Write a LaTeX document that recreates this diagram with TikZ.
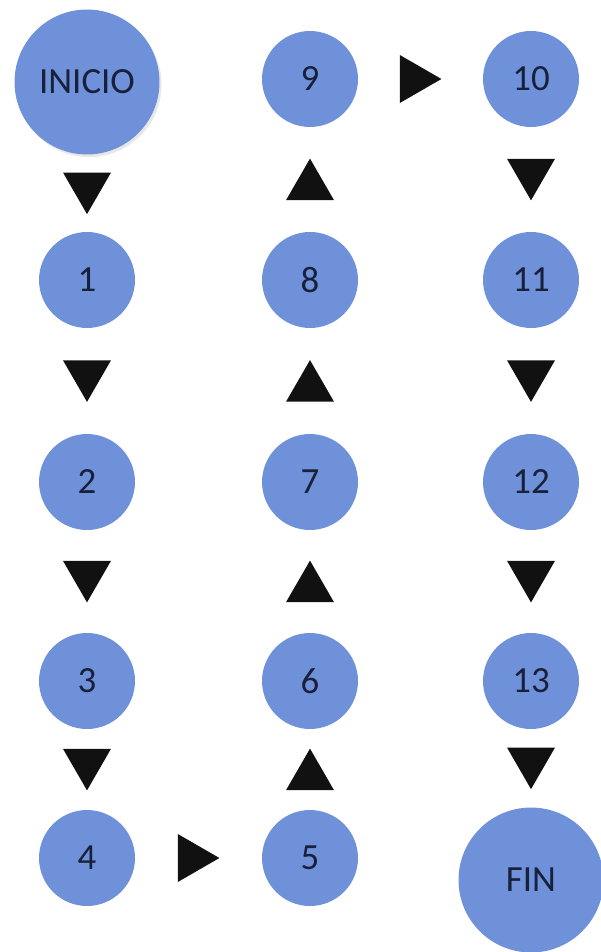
\documentclass[tikz,border=0pt]{standalone}
\usepackage{fontspec}
\setmainfont{Carlito}
\usepackage{xcolor}
\usepackage{tikz}
\usetikzlibrary{shapes.geometric,shadows}
\definecolor{StepBlue}{HTML}{6F91DA}
\definecolor{TextNavy}{HTML}{18203A}
\definecolor{ArrowDark}{HTML}{111111}

\begin{document}
\begin{tikzpicture}[x=0.02cm, y=-0.02cm,
    etapa/.style={circle, fill=StepBlue, minimum size=1.92cm, inner sep=0pt,
      text=TextNavy, font=\fontsize{21pt}{23pt}\selectfont},
    extremo/.style={etapa, minimum size=2.9cm},
    flecha/.style={regular polygon, regular polygon sides=3, fill=ArrowDark,
      minimum size=1.11cm, inner sep=0pt},
    abajo/.style={flecha, shape border rotate=180, yshift=3.9pt},
    arriba/.style={flecha, yshift=-3.9pt},
    derecha/.style={flecha, shape border rotate=-90, xshift=-3.9pt}]
  \useasboundingbox (0,0) rectangle (600,952);

  % columna izquierda
  \node[extremo, drop shadow={opacity=0.18, shadow xshift=1.2pt, shadow yshift=-1.5pt}]
    (inicio) at (87,82) {INICIO};
  \node[etapa] (n1) at (87,280) {1};
  \node[etapa] (n2) at (87,482) {2};
  \node[etapa] (n3) at (87,681) {3};
  \node[etapa] (n4) at (87,858) {4};
  % columna central
  \node[etapa] (n5) at (310,858) {5};
  \node[etapa] (n6) at (310,681) {6};
  \node[etapa] (n7) at (310,482) {7};
  \node[etapa] (n8) at (310,280) {8};
  \node[etapa] (n9) at (310,79) {9};
  % columna derecha
  \node[etapa] (n10) at (531,79) {10};
  \node[etapa] (n11) at (531,280) {11};
  \node[etapa] (n12) at (531,482) {12};
  \node[etapa] (n13) at (531,681) {13};
  \node[extremo] (fin) at (531,880) {FIN};

  % flechas
  \foreach \a/\b/\dir in {inicio/n1/abajo, n1/n2/abajo, n2/n3/abajo, n3/n4/abajo,
      n4/n5/derecha, n5/n6/arriba, n6/n7/arriba, n7/n8/arriba, n8/n9/arriba,
      n9/n10/derecha, n10/n11/abajo, n11/n12/abajo, n12/n13/abajo, n13/fin/abajo}
    \path (\a) -- node[\dir] {} (\b);
\end{tikzpicture}
\end{document}
